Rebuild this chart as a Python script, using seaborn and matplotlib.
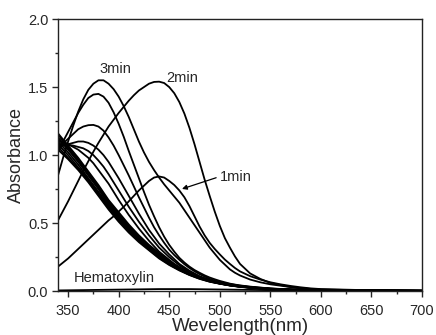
import matplotlib
matplotlib.use("Agg")
import matplotlib.pyplot as plt
import numpy as np
import pandas as pd
import seaborn as sns

# wavelength grids (nm): fine one for the peaked spectra, coarse one for the smooth ones
wl_fine = [340, 345, 350, 355, 360, 365, 370, 375, 380, 385, 390, 395, 400, 405, 410, 415,
           420, 425, 430, 435, 440, 445, 450, 455, 460, 465, 470, 475, 480, 485, 490, 495,
           500, 505, 510, 515, 520, 530, 540, 550, 560, 570, 580, 590, 600, 650, 700]
wl = [340, 350, 360, 370, 380, 390, 400, 410, 420, 430, 440, 450, 460, 470,
      480, 490, 500, 510, 520, 530, 540, 550, 560, 570, 580, 590, 600, 650, 700]

# absorbance
min1 = [0.18, 0.21, 0.24, 0.275, 0.31, 0.345, 0.38, 0.415, 0.45, 0.485, 0.52, 0.55, 0.585, 0.62, 0.66, 0.70,
        0.74, 0.775, 0.81, 0.835, 0.843, 0.835, 0.81, 0.78, 0.74, 0.69, 0.625, 0.55, 0.475, 0.41, 0.355, 0.31,
        0.27, 0.232, 0.20, 0.17, 0.145, 0.11, 0.085, 0.065, 0.05, 0.038, 0.028, 0.02, 0.015, 0.006, 0.003]
min2 = [0.52, 0.59, 0.66, 0.735, 0.81, 0.885, 0.955, 1.025, 1.09, 1.15, 1.21, 1.26, 1.31, 1.355, 1.40, 1.44,
        1.475, 1.50, 1.525, 1.538, 1.54, 1.53, 1.50, 1.455, 1.39, 1.305, 1.20, 1.08, 0.95, 0.82, 0.70, 0.585,
        0.48, 0.39, 0.32, 0.255, 0.20, 0.13, 0.09, 0.06, 0.045, 0.03, 0.02, 0.015, 0.01, 0.005, 0.003]
min3 = [0.85, 0.98, 1.10, 1.215, 1.32, 1.41, 1.48, 1.525, 1.55, 1.55, 1.525, 1.485, 1.43, 1.36, 1.28, 1.19,
        1.10, 1.02, 0.95, 0.89, 0.835, 0.785, 0.74, 0.695, 0.65, 0.595, 0.54, 0.485, 0.43, 0.375, 0.32, 0.275,
        0.23, 0.195, 0.16, 0.135, 0.115, 0.085, 0.065, 0.05, 0.04, 0.03, 0.022, 0.016, 0.012, 0.005, 0.003]
min4 = [1.02, 1.10, 1.17, 1.24, 1.31, 1.37, 1.42, 1.445, 1.45, 1.43, 1.385, 1.315, 1.23, 1.135, 1.03, 0.93,
        0.83, 0.73, 0.635, 0.55, 0.47, 0.40, 0.34, 0.29, 0.245, 0.21, 0.18, 0.155, 0.135, 0.116, 0.10, 0.087,
        0.075, 0.065, 0.055, 0.048, 0.042, 0.033, 0.026, 0.02, 0.016, 0.013, 0.01, 0.008, 0.007, 0.004, 0.002]
min5 = [1.05, 1.085, 1.12, 1.155, 1.19, 1.21, 1.22, 1.222, 1.21, 1.18, 1.13, 1.07, 1.00, 0.925, 0.85, 0.77,
        0.69, 0.615, 0.54, 0.47, 0.41, 0.355, 0.305, 0.265, 0.23, 0.198, 0.17, 0.146, 0.125, 0.107, 0.09, 0.078,
        0.068, 0.059, 0.052, 0.046, 0.04, 0.031, 0.025, 0.019, 0.015, 0.012, 0.01, 0.008, 0.006, 0.004, 0.002]
min6 = [1.06, 1.07, 1.08, 1.09, 1.10, 1.10, 1.09, 1.07, 1.04, 1.00, 0.95, 0.89, 0.83, 0.765, 0.70, 0.635,
        0.57, 0.51, 0.45, 0.40, 0.35, 0.31, 0.27, 0.235, 0.20, 0.175, 0.15, 0.13, 0.11, 0.095, 0.082, 0.071,
        0.062, 0.054, 0.048, 0.042, 0.037, 0.029, 0.023, 0.018, 0.014, 0.011, 0.009, 0.007, 0.006, 0.003, 0.002]
min7 = [1.08, 1.08, 1.075, 1.07, 1.06, 1.05, 1.03, 1.00, 0.96, 0.915, 0.86, 0.80, 0.74, 0.68, 0.62, 0.565,
        0.51, 0.46, 0.41, 0.365, 0.32, 0.285, 0.25, 0.22, 0.19, 0.165, 0.14, 0.12, 0.10, 0.087, 0.075, 0.065,
        0.057, 0.05, 0.044, 0.039, 0.034, 0.027, 0.021, 0.016, 0.013, 0.01, 0.008, 0.006, 0.005, 0.003, 0.002]
min8 = [1.10, 1.095, 1.08, 1.06, 1.04, 1.01, 0.98, 0.94, 0.89, 0.84, 0.79, 0.73, 0.67, 0.615, 0.56, 0.51,
        0.46, 0.415, 0.37, 0.33, 0.29, 0.26, 0.23, 0.20, 0.175, 0.152, 0.13, 0.114, 0.10, 0.086, 0.074, 0.064,
        0.056, 0.049, 0.043, 0.038, 0.033, 0.026, 0.02, 0.016, 0.012, 0.01, 0.008, 0.006, 0.005, 0.003, 0.002]

hematoxylin = [0.005, 0.006, 0.007, 0.008, 0.009, 0.010, 0.011, 0.012, 0.013, 0.014, 0.015, 0.015, 0.015, 0.015,
               0.014, 0.013, 0.012, 0.011, 0.010, 0.009, 0.008, 0.007, 0.006, 0.005, 0.005, 0.004, 0.004, 0.003, 0.002]
# the thick bundle of late spectra
b1 = [1.16, 1.07, 0.98, 0.88, 0.78, 0.67, 0.58, 0.49, 0.41, 0.34, 0.28, 0.22, 0.175, 0.135,
      0.105, 0.08, 0.062, 0.048, 0.037, 0.029, 0.022, 0.017, 0.013, 0.01, 0.008, 0.006, 0.005, 0.003, 0.002]
b2 = [1.15, 1.06, 0.97, 0.87, 0.77, 0.66, 0.57, 0.48, 0.40, 0.33, 0.27, 0.215, 0.17, 0.13,
      0.102, 0.078, 0.06, 0.046, 0.036, 0.028, 0.021, 0.016, 0.013, 0.01, 0.008, 0.006, 0.005, 0.003, 0.002]
b3 = [1.13, 1.05, 0.96, 0.86, 0.76, 0.65, 0.56, 0.47, 0.395, 0.325, 0.265, 0.21, 0.167, 0.128,
      0.1, 0.077, 0.059, 0.045, 0.035, 0.027, 0.021, 0.016, 0.012, 0.01, 0.008, 0.006, 0.005, 0.003, 0.002]
b4 = [1.12, 1.04, 0.95, 0.85, 0.75, 0.64, 0.55, 0.465, 0.39, 0.32, 0.26, 0.207, 0.164, 0.126,
      0.098, 0.075, 0.058, 0.044, 0.034, 0.027, 0.02, 0.016, 0.012, 0.009, 0.007, 0.006, 0.005, 0.003, 0.002]
b5 = [1.10, 1.02, 0.93, 0.83, 0.73, 0.63, 0.54, 0.46, 0.385, 0.315, 0.255, 0.203, 0.161, 0.124,
      0.096, 0.074, 0.057, 0.043, 0.034, 0.026, 0.02, 0.015, 0.012, 0.009, 0.007, 0.006, 0.005, 0.003, 0.002]
b6 = [1.08, 1.00, 0.91, 0.82, 0.72, 0.62, 0.53, 0.45, 0.38, 0.31, 0.25, 0.2, 0.158, 0.122,
      0.094, 0.072, 0.056, 0.042, 0.033, 0.026, 0.02, 0.015, 0.012, 0.009, 0.007, 0.006, 0.005, 0.003, 0.002]
b7 = [1.06, 0.98, 0.90, 0.81, 0.71, 0.61, 0.52, 0.44, 0.37, 0.305, 0.245, 0.196, 0.155, 0.12,
      0.092, 0.07, 0.055, 0.042, 0.032, 0.025, 0.019, 0.015, 0.011, 0.009, 0.007, 0.005, 0.004, 0.003, 0.002]
b8 = [1.04, 0.97, 0.89, 0.80, 0.70, 0.60, 0.51, 0.43, 0.36, 0.30, 0.24, 0.192, 0.152, 0.118,
      0.09, 0.069, 0.054, 0.041, 0.031, 0.024, 0.019, 0.014, 0.011, 0.009, 0.007, 0.005, 0.004, 0.003, 0.002]

fine = {"1min": min1, "2min": min2, "3min": min3, "4min": min4,
        "5min": min5, "6min": min6, "7min": min7, "8min": min8}
coarse = {"Hematoxylin": hematoxylin, "b1": b1, "b2": b2, "b3": b3, "b4": b4,
          "b5": b5, "b6": b6, "b7": b7, "b8": b8}

rows = []
for name, vals in fine.items():
    for w, a in zip(wl_fine, vals):
        rows.append({"wl": w, "A": a, "curve": name})
for name, vals in coarse.items():
    for w, a in zip(wl, vals):
        rows.append({"wl": w, "A": a, "curve": name})
df = pd.DataFrame(rows)

sns.set_style("ticks")
plt.rcParams['font.family'] = ['Liberation Sans', 'DejaVu Sans']

fig = plt.figure(figsize=(4.36, 3.35), dpi=100)
ax = fig.add_axes([0.133, 0.131, 0.835, 0.812])

sns.lineplot(data=df, x="wl", y="A", units="curve", estimator=None,
             color="black", linewidth=1.3, ax=ax, legend=False)

ax.set_xlim(340, 700)
ax.set_ylim(0, 2.0)
ax.set_xticks([350, 400, 450, 500, 550, 600, 650, 700])
ax.set_xticks(np.arange(375, 700, 50), minor=True)
ax.set_yticks([0.0, 0.5, 1.0, 1.5, 2.0])
ax.set_yticks([0.25, 0.75, 1.25, 1.75], minor=True)
ax.set_yticklabels(["0.0", "0.5", "1.0", "1.5", "2.0"])
ax.tick_params(which="major", direction="out", length=4, width=1, labelsize=10.5)
ax.tick_params(axis="x", which="major", pad=5)
ax.tick_params(axis="y", which="major", pad=3)
ax.tick_params(which="minor", direction="out", length=2.5, width=1)
for s in ax.spines.values():
    s.set_linewidth(1)
    s.set_color("#222222")

ax.set_xlabel("Wevelength(nm)", fontsize=13.5)
ax.set_ylabel("Absorbance", fontsize=13)
ax.xaxis.set_label_coords(0.5, -0.1)
ax.yaxis.set_label_coords(-0.09, 0.5)

ax.text(381, 1.63, "3min", fontsize=10.5, va="center", ha="left")
ax.text(447, 1.57, "2min", fontsize=10.5, va="center", ha="left")
ax.text(500, 0.84, "1min", fontsize=10.5, va="center", ha="left")
ax.text(356, 0.095, "Hematoxylin", fontsize=10.5, va="center", ha="left")
ax.annotate("", xy=(460, 0.745), xytext=(499, 0.84),
            arrowprops=dict(arrowstyle="-|>", color="black", lw=0.9, mutation_scale=7))

fig.savefig("out.png", dpi=100)
